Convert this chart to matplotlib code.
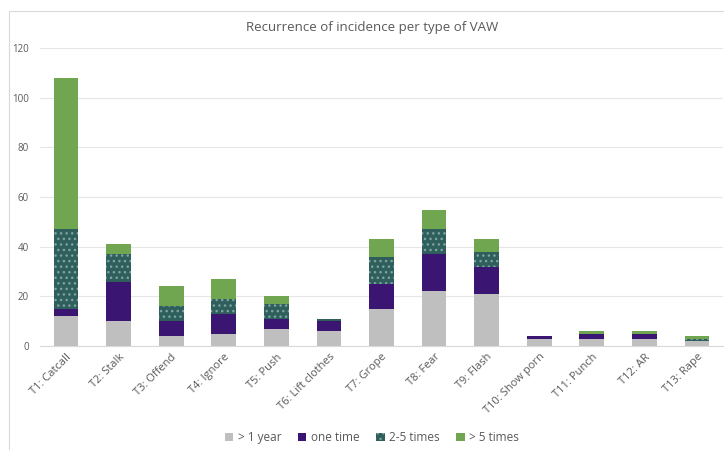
import numpy as np
import matplotlib.pyplot as plt
from matplotlib.patches import Rectangle

plt.rcParams['font.family'] = ['Open Sans', 'DejaVu Sans']
plt.rcParams['hatch.linewidth'] = 1.0

types = ['T1: Catcall', 'T2: Stalk', 'T3: Offend', 'T4: Ignore', 'T5: Push',
         'T6: Lift clothes', 'T7: Grope', 'T8: Fear', 'T9: Flash',
         'T10: Show porn', 'T11: Punch', 'T12: AR', 'T13: Rape']
over_1_year = [12, 10, 4, 5, 7, 6, 15, 22, 21, 3, 3, 3, 2]
one_time = [3, 16, 6, 8, 4, 4, 10, 15, 11, 1, 2, 2, 0]
two_five_times = [32, 11, 6, 6, 6, 1, 11, 10, 6, 0, 0, 0, 1]
over_5_times = [61, 4, 8, 8, 3, 0, 7, 8, 5, 0, 1, 1, 1]

series = [('> 1 year', over_1_year, '#bfbfbf', None),
          ('one time', one_time, '#3b1572', None),
          ('2-5 times', two_five_times, '#2f5f5c', '...'),
          ('> 5 times', over_5_times, '#70a64f', None)]

text_col = '#595959'

fig = plt.figure(figsize=(7.24, 4.5), dpi=100)
ax = fig.add_axes([0.055, 0.231, 0.944, 0.662])

# light frame around the chart area
fig.patches.append(Rectangle((9 / 724, -0.1), 1.1, 1 - 11 / 450 + 0.1,
                             transform=fig.transFigure, fill=False,
                             edgecolor='#d9d9d9', linewidth=0.8))

x = np.arange(len(types))
bottom = np.zeros(len(types))
for name, vals, col, hatch in series:
    vals = np.array(vals, dtype=float)
    if hatch:
        ax.bar(x, vals, 0.47, bottom=bottom, color=col, hatch=hatch,
               edgecolor='#7fa39e', linewidth=0, label=name, zorder=3)
    else:
        ax.bar(x, vals, 0.47, bottom=bottom, color=col, linewidth=0,
               label=name, zorder=3)
    bottom += vals

ax.set_xlim(-0.5, len(types) - 0.5)
ax.set_ylim(0, 120)
ax.set_yticks(range(0, 121, 20))
ax.yaxis.grid(True, color='#e6e6e6', linewidth=0.8, zorder=0)
ax.set_axisbelow(True)
for s in ['top', 'right', 'left']:
    ax.spines[s].set_visible(False)
ax.spines['bottom'].set_color('#d9d9d9')
ax.tick_params(axis='y', length=0, labelsize=7, labelcolor=text_col, pad=8)
ax.tick_params(axis='x', length=0, labelsize=8, labelcolor=text_col, pad=4)
ax.set_xticks(x)
ax.set_xticklabels(types, rotation=45, ha='right', rotation_mode='anchor')

fig.text(0.514, 0.94, 'Recurrence of incidence per type of VAW',
         ha='center', va='center', fontsize=9.5, color=text_col)

fig.legend(loc='center', bbox_to_anchor=(0.514, 0.027), ncol=4, frameon=False,
           fontsize=8.5, labelcolor=text_col, handlelength=0.7,
           handleheight=0.7, handletextpad=0.4, columnspacing=1.4)

fig.savefig('out.png', dpi=100)
